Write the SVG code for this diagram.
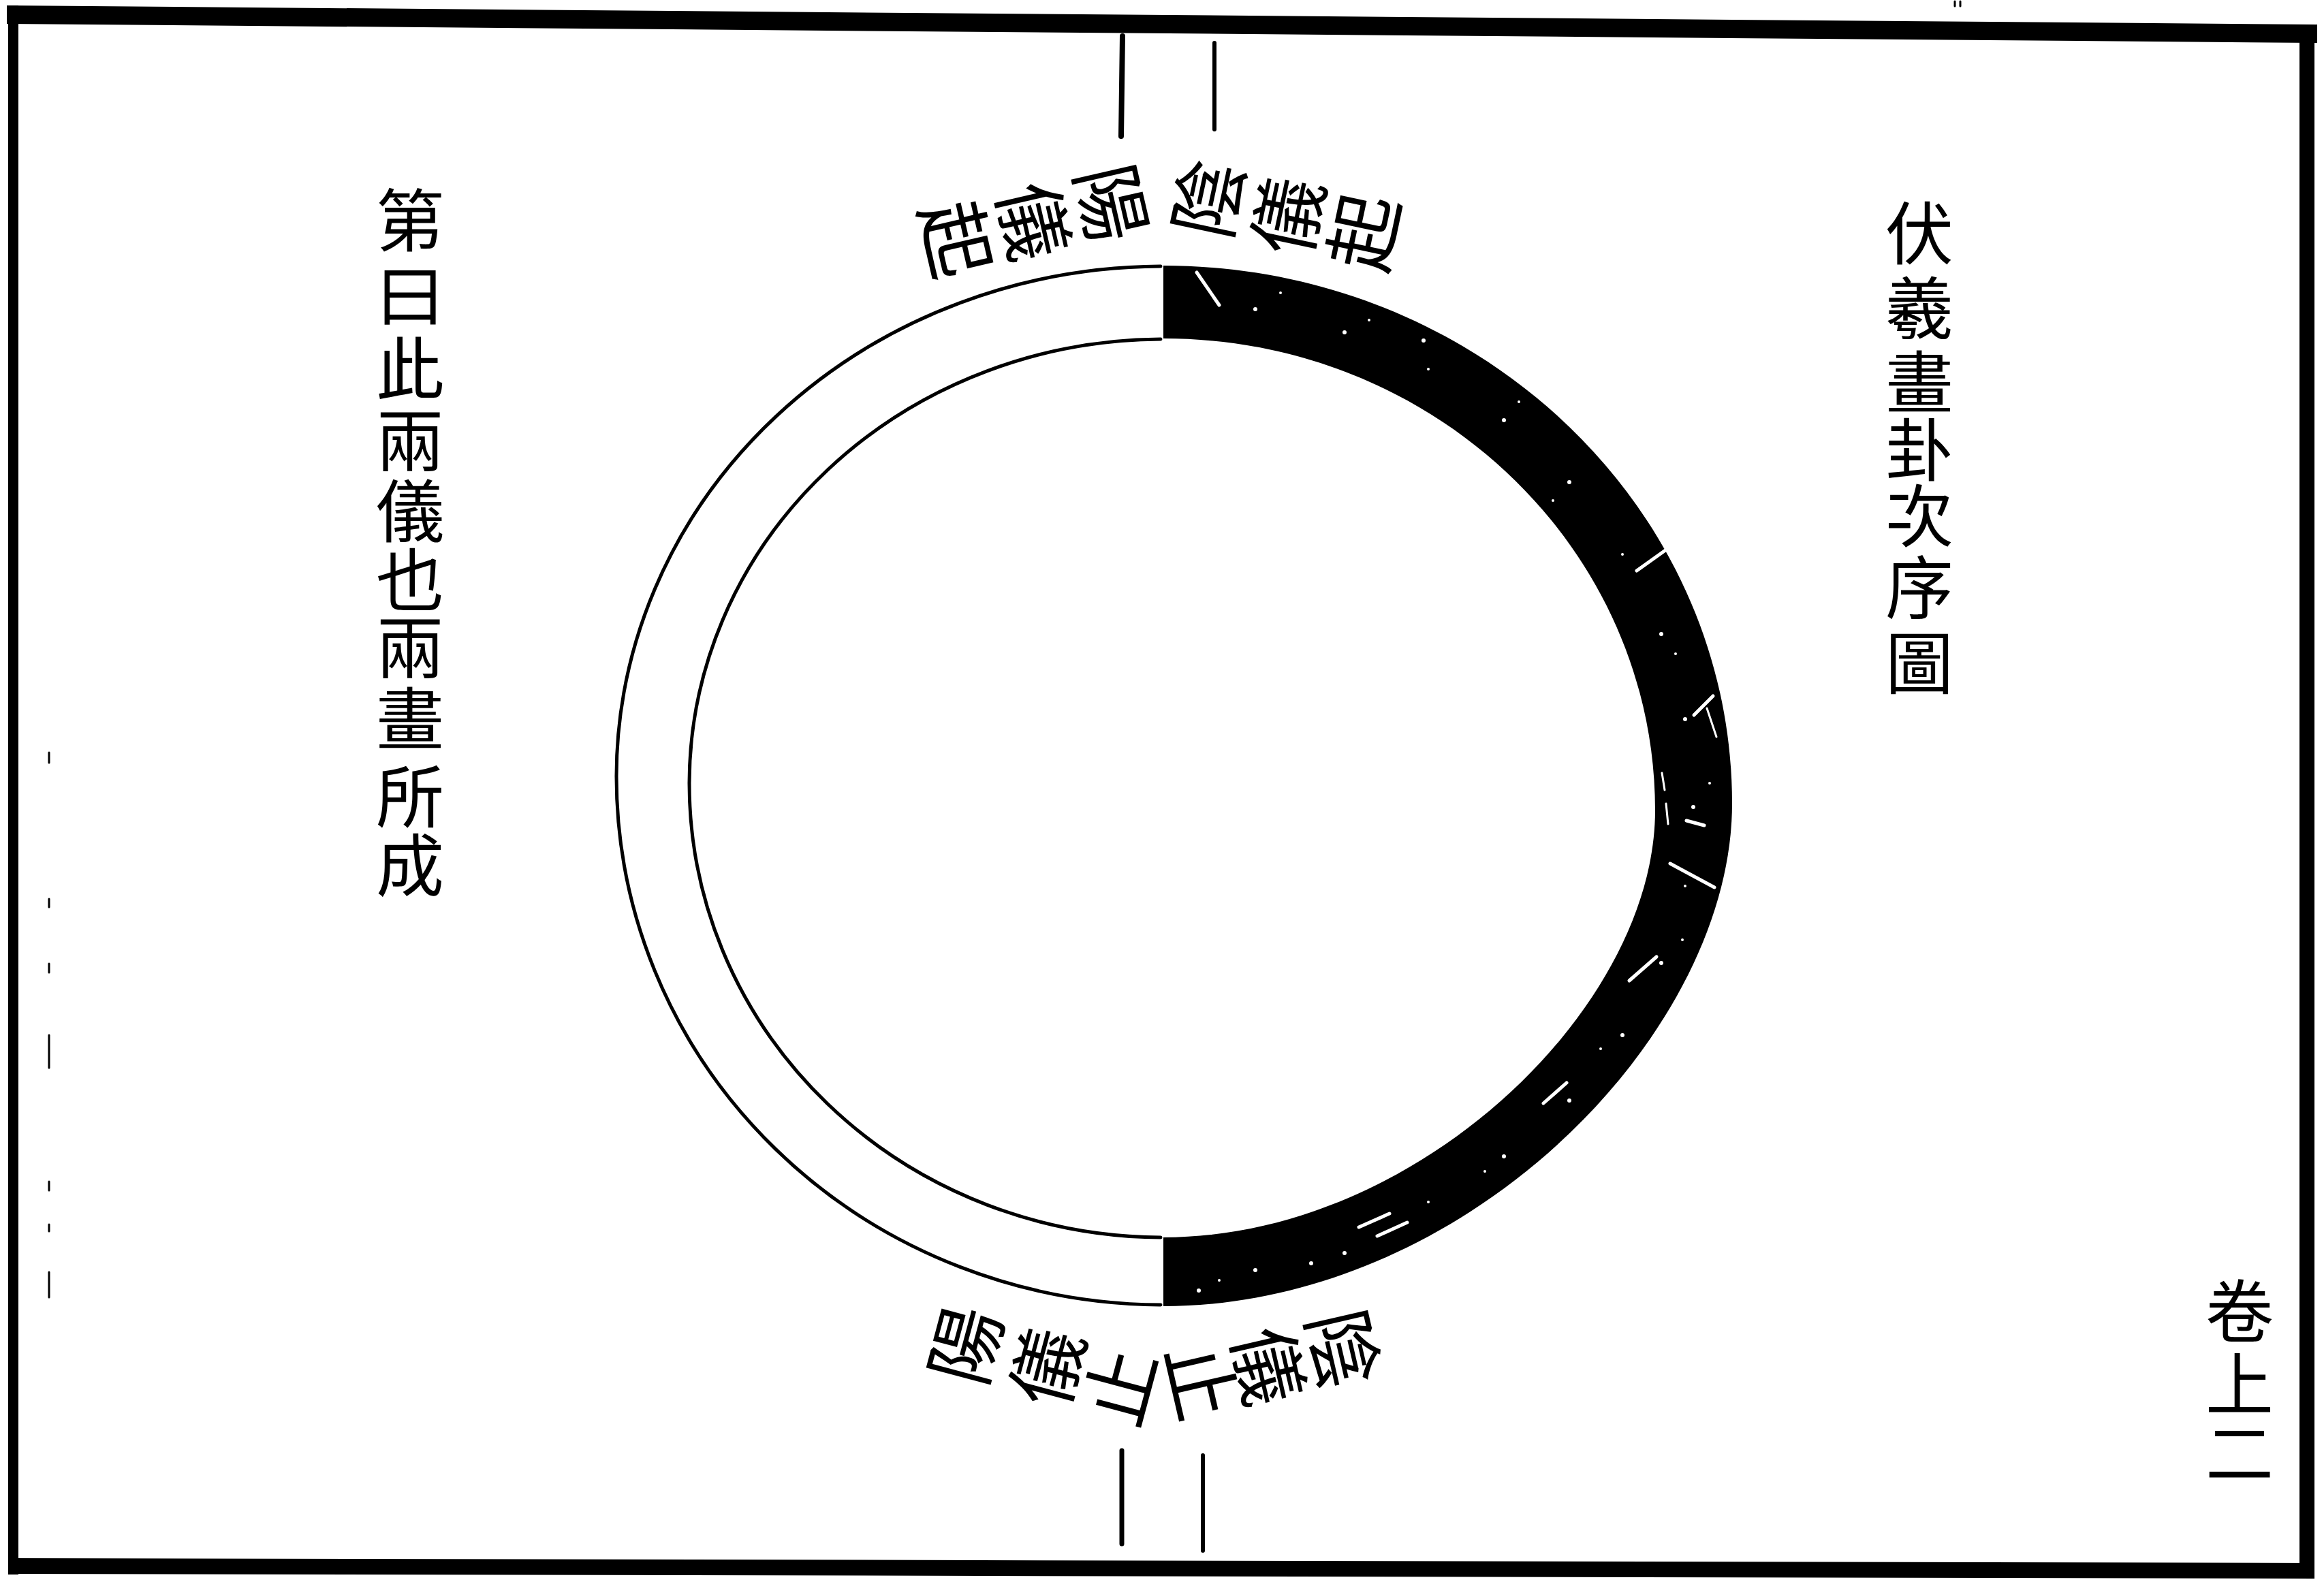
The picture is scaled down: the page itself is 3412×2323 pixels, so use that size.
<svg xmlns="http://www.w3.org/2000/svg" width="3412" height="2323" viewBox="0 0 3412 2323">
<style>
.v{font-family:"Noto Sans CJK TC","Noto Sans CJK SC",sans-serif;fill:#000;writing-mode:vertical-rl;text-anchor:start;dominant-baseline:central}
.t{font-size:100px}
.lab{font-size:112px}
.ln{fill:none;stroke:#000;stroke-width:5;stroke-linecap:round}
.tick{fill:none;stroke:#000;stroke-linecap:round}
.streak{fill:none;stroke:#fff;stroke-linecap:round}
</style>
<rect x="0" y="0" width="3412" height="2323" fill="#fff"/>
<g id="frame" fill="#000">
<polygon points="10,8 3402,36 3402,63 10,35"/>
<rect x="12" y="8" width="15" height="2304"/>
<rect x="3376" y="36" width="22" height="2280"/>
<polygon points="12,2288 3398,2295 3398,2318 12,2311"/>
<g class="tick" stroke-width="3">
<line x1="2870" y1="2" x2="2870" y2="9"/>
<line x1="2878" y1="2" x2="2878" y2="9"/>
<line x1="72" y1="1105" x2="72" y2="1120"/>
<line x1="72" y1="1320" x2="72" y2="1332"/>
<line x1="72" y1="1415" x2="72" y2="1428"/>
<line x1="72" y1="1520" x2="72" y2="1568"/>
<line x1="72" y1="1735" x2="72" y2="1748"/>
<line x1="72" y1="1798" x2="72" y2="1808"/>
<line x1="72" y1="1868" x2="72" y2="1905"/>
</g>
</g>
<g id="axis-marks" class="tick">
<line x1="1648" y1="53" x2="1646" y2="200" stroke-width="8"/>
<line x1="1783" y1="63" x2="1783" y2="190" stroke-width="6"/>
<line x1="1647" y1="2130" x2="1647" y2="2267" stroke-width="7"/>
<line x1="1766" y1="2137" x2="1766" y2="2277" stroke-width="6"/>
</g>
<g id="yang-ring">
<path class="ln" d="M1704,391 A803,750 0 0 0 905,1140 A803,776 0 0 0 1704,1916"/>
<path class="ln" d="M1704,498 A696,653 0 0 0 1012,1150 A696,667 0 0 0 1704,1817"/>
</g>
<g id="yin-ring">
<path fill="#000" d="M1708,390 C2169,390 2543,744 2543,1180 C2543,1520 2150,1918 1708,1918 L1708,1817 C2080,1817 2430,1480 2430,1190 C2430,807 2107,497 1708,497 Z"/>
<g class="streak" stroke-width="5">
<line x1="1757" y1="400" x2="1790" y2="448"/>
<line x1="2403" y1="838" x2="2445" y2="808"/>
<line x1="2487" y1="1050" x2="2515" y2="1022"/>
<line x1="2476" y1="1205" x2="2502" y2="1212"/>
<line x1="2452" y1="1268" x2="2517" y2="1303"/>
<line x1="2392" y1="1440" x2="2432" y2="1405"/>
<line x1="1995" y1="1802" x2="2040" y2="1782"/>
<line x1="2022" y1="1815" x2="2066" y2="1795"/>
<line x1="2266" y1="1620" x2="2300" y2="1590"/>
<line x1="2506" y1="1040" x2="2520" y2="1082" stroke-width="3"/>
<line x1="2440" y1="1135" x2="2444" y2="1160" stroke-width="3"/>
<line x1="2446" y1="1180" x2="2449" y2="1210" stroke-width="3"/>
</g>
<g fill="#fff">
<circle cx="1843" cy="454" r="3"/><circle cx="1880" cy="430" r="2"/>
<circle cx="1974" cy="488" r="3"/><circle cx="2010" cy="470" r="2"/>
<circle cx="2097" cy="542" r="2"/><circle cx="2090" cy="500" r="3"/>
<circle cx="2208" cy="617" r="3"/><circle cx="2230" cy="590" r="2"/>
<circle cx="2304" cy="708" r="3"/><circle cx="2280" cy="735" r="2"/>
<circle cx="2382" cy="814" r="2"/><circle cx="2439" cy="931" r="3"/>
<circle cx="2460" cy="960" r="2"/><circle cx="2474" cy="1056" r="3"/>
<circle cx="2486" cy="1185" r="3"/><circle cx="2510" cy="1150" r="2"/>
<circle cx="2474" cy="1301" r="2"/><circle cx="2439" cy="1414" r="3"/>
<circle cx="2470" cy="1380" r="2"/><circle cx="2382" cy="1520" r="3"/>
<circle cx="2350" cy="1540" r="2"/><circle cx="2304" cy="1616" r="3"/>
<circle cx="2208" cy="1698" r="3"/><circle cx="2180" cy="1720" r="2"/>
<circle cx="2097" cy="1765" r="2"/><circle cx="1974" cy="1840" r="3"/>
<circle cx="1925" cy="1855" r="3"/><circle cx="1843" cy="1865" r="3"/>
<circle cx="1790" cy="1880" r="2"/><circle cx="1760" cy="1895" r="3"/>
</g>
</g>
<g id="label-yang-start">
<text class="v lab" transform="translate(1633,298) rotate(77)" x="0" y="-56 62 178">陽儀起</text>
</g>
<g id="label-yin-start">
<text class="v lab" transform="translate(1773,292) rotate(-78)" x="0" y="-56 64 178">陰儀起</text>
</g>
<g id="label-yang-end">
<text class="v lab" transform="translate(1417,1975) rotate(-75)" x="0" y="-56 68 179">陽儀止</text>
</g>
<g id="label-yin-end">
<text class="v lab" transform="translate(1973,1980) rotate(77)" x="0" y="-56 57 158">陰儀止</text>
</g>
<g id="title">
<text class="v t" x="2818" y="292 402 511 610 707 812 923">伏羲畫卦次序圖</text>
</g>
<g id="note">
<text class="v t" x="602" y="273 383 491 596 700 801 900 1005 1119 1220">第曰此兩儀也兩畫所成</text>
</g>
<g id="page-number">
<text class="v t" x="3288" y="1875 1982 2083">卷上二</text>
</g>
</svg>
